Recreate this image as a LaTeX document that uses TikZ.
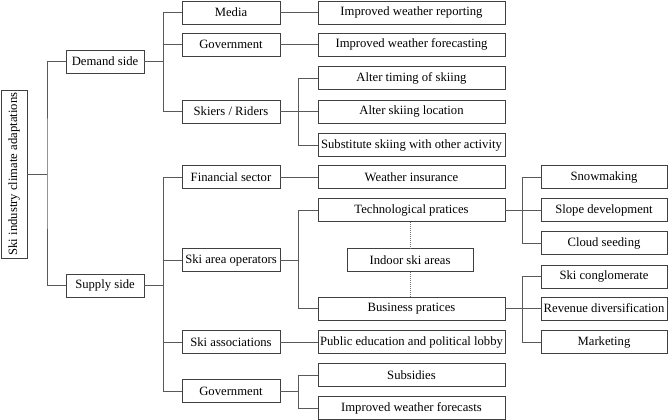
\documentclass[tikz,border=0pt]{standalone}
\usepackage{fontspec}
\setmainfont{Liberation Serif}
\usetikzlibrary{calc,positioning}

\tikzset{
  box/.style={draw=black!75, line width=0.6pt, minimum height=23*0.75pt,
    inner sep=1pt, font=\fontsize{9.5}{11}\selectfont},
  lvone/.style={box, minimum width=78*0.75pt},
  lvtwo/.style={box, minimum width=98*0.75pt},
  lvthree/.style={box, minimum width=187*0.75pt},
  lvfour/.style={box, minimum width=126*0.75pt},
  link/.style={draw=black!65, line width=0.6pt},
  dotlink/.style={draw=black!55, line width=0.5pt, densely dotted}
}

\begin{document}
\begin{tikzpicture}[x=0.75pt,y=-0.75pt]
  \useasboundingbox (0,0) rectangle (668,420);
  % root
  \node[box, rotate=90, minimum width=168*0.75pt, minimum height=26*0.75pt]
    (root) at (14,174) {Ski industry climate adaptations};
  % first level
  \node[lvone] (demand) at (105,61.5) {Demand side};
  \node[lvone] (supply) at (105,285.5) {Supply side};
  % second level
  \node[lvtwo] (media)     at (231,12.5)  {Media};
  \node[lvtwo] (govdem)    at (231,44.5)  {Government};
  \node[lvtwo] (skiers)    at (231,111.5) {Skiers / Riders};
  \node[lvtwo] (finance)   at (231,177)   {Financial sector};
  \node[lvtwo] (operators) at (231,260)   {Ski area operators};
  \node[lvtwo] (assoc)     at (231,342)   {Ski associations};
  \node[lvtwo] (govsup)    at (231,391)   {Government};
  % third level
  \node[lvthree] (reporting)   at (411.5,12.5)  {Improved weather reporting};
  \node[lvthree] (forecasting) at (411.5,44.5)  {Improved weather forecasting};
  \node[lvthree] (timing)      at (411.5,78)    {Alter timing of skiing};
  \node[lvthree] (location)    at (411.5,111.5) {Alter skiing location};
  \node[lvthree] (substitute)  at (411.5,145)   {Substitute skiing with other activity};
  \node[lvthree] (insurance)   at (411.5,177)   {Weather insurance};
  \node[lvthree] (tech)        at (411.5,210)   {Technological pratices};
  \node[lvfour]  (indoor)      at (410,260)     {Indoor ski areas};
  \node[lvthree] (business)    at (411.5,308.5) {Business pratices};
  \node[lvthree] (lobby)       at (411.5,342)   {Public education and political lobby};
  \node[lvthree] (subsidies)   at (411.5,375)   {Subsidies};
  \node[lvthree] (forecasts)   at (411.5,408)   {Improved weather forecasts};
  % fourth level
  \node[lvfour] (snow)     at (604,177)   {Snowmaking};
  \node[lvfour] (slope)    at (604,210)   {Slope development};
  \node[lvfour] (cloud)    at (604,243)   {Cloud seeding};
  \node[lvfour] (conglo)   at (604,276.5) {Ski conglomerate};
  \node[lvfour] (revenue)  at (604,308.5) {Revenue diversification};
  \node[lvfour] (market)   at (604,342)   {Marketing};
  % junctions
  \coordinate (jroot) at (47,174);
  \coordinate (jdem)  at (163,61.5);
  \coordinate (jsup)  at (163,285.5);
  \coordinate (jski)  at (298,111.5);
  \coordinate (jop)   at (298,260);
  \coordinate (jgov)  at (298,391);
  \coordinate (jtech) at (522,210);
  \coordinate (jbus)  at (522,308.5);
  % connectors
  \draw[link] (root.south) -- (jroot);
  \draw[link] (demand.west) -| (jroot) |- (supply.west);
  \draw[link] (demand.east) -- (jdem);
  \draw[link] (supply.east) -- (jsup);
  \foreach \c in {media,govdem,skiers} \draw[link] (jdem) |- (\c.west);
  \foreach \c in {finance,operators,assoc,govsup} \draw[link] (jsup) |- (\c.west);
  \foreach \a/\b in {media/reporting,govdem/forecasting,finance/insurance,assoc/lobby}
    \draw[link] (\a.east) -- (\b.west);
  \draw[link] (skiers.east) -- (jski);
  \foreach \c in {timing,location,substitute} \draw[link] (jski) |- (\c.west);
  \draw[link] (operators.east) -- (jop);
  \foreach \c in {tech,business} \draw[link] (jop) |- (\c.west);
  \draw[link] (govsup.east) -- (jgov);
  \foreach \c in {subsidies,forecasts} \draw[link] (jgov) |- (\c.west);
  \draw[link] (tech.east) -- (jtech);
  \foreach \c in {snow,slope,cloud} \draw[link] (jtech) |- (\c.west);
  \draw[link] (business.east) -- (jbus);
  \foreach \c in {conglo,revenue,market} \draw[link] (jbus) |- (\c.west);
  % indoor areas
  \draw[dotlink] (tech.south -| indoor.north) -- (indoor.north);
  \draw[dotlink] (indoor.south) -- (business.north -| indoor.south);
\end{tikzpicture}
\end{document}
